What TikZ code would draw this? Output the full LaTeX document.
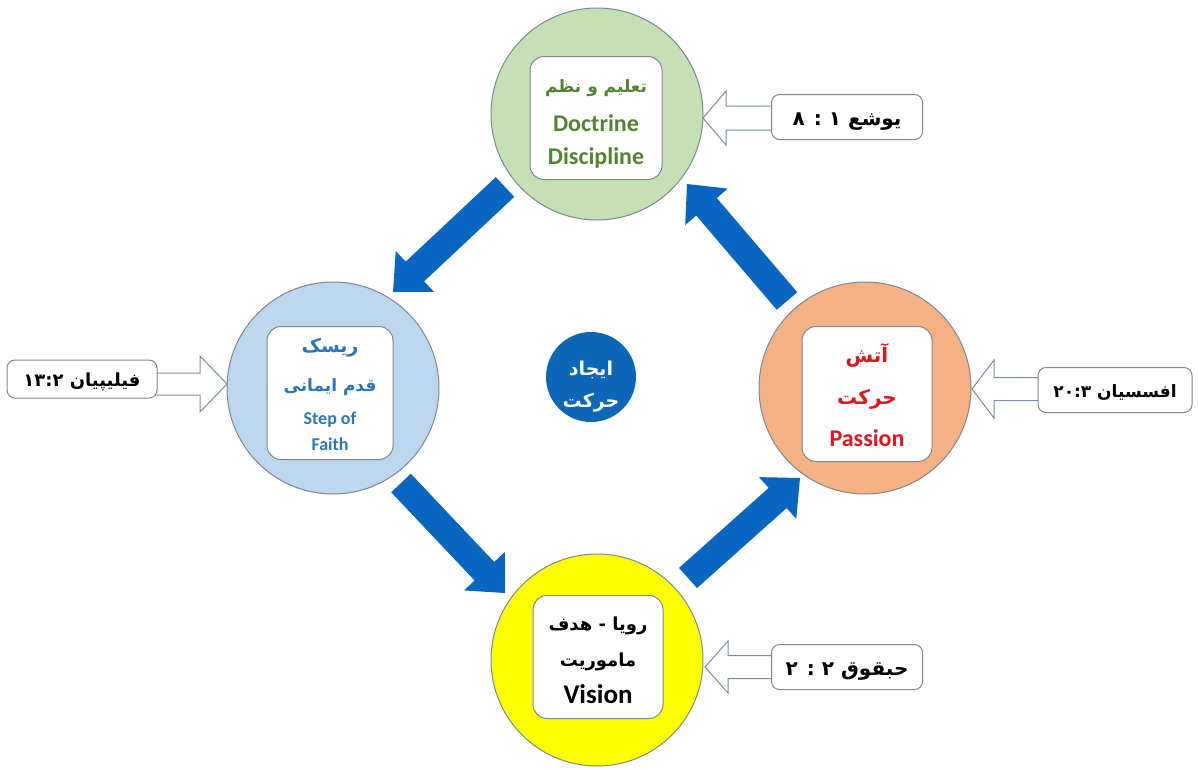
\documentclass[tikz,border=0pt]{standalone}
\usepackage{fontspec}
\setmainfont{Carlito}
\newfontfamily\fa[Script=Arabic]{DejaVu Sans}
\TeXXeTstate=1
\usetikzlibrary{calc}
\definecolor{gfill}{HTML}{C5E0B4}
\definecolor{gtext}{HTML}{548235}
\definecolor{bfill}{HTML}{BDD7EE}
\definecolor{btext}{HTML}{2E75B6}
\definecolor{ofill}{HTML}{F4B183}
\definecolor{otext}{HTML}{E0161E}
\definecolor{yfill}{HTML}{FFFF00}
\definecolor{darkb}{RGB}{14,102,184}
\definecolor{arrb}{RGB}{8,102,192}
\definecolor{edge}{RGB}{125,135,145}
\definecolor{hedge}{RGB}{120,140,165}
\newcommand\fatarr[6]{%
  \coordinate (fa-hb) at ($(#2)!#5!(#1)$);
  \path[#6] ($(#1)!#3!90:(#2)$) -- ($(fa-hb)!#3!90:(#2)$) -- ($(fa-hb)!#4!90:(#2)$) -- (#2)
     -- ($(fa-hb)!#4!-90:(#2)$) -- ($(fa-hb)!#3!-90:(#2)$) -- ($(#1)!#3!-90:(#2)$) -- cycle;
}
\begin{document}
\begin{tikzpicture}[x=1pt,y=-1pt,
  bigc/.style={circle,draw=edge,line width=1pt,minimum size=212pt,inner sep=0pt},
  inbox/.style={draw=edge,line width=1pt,fill=white,rounded corners=14pt,inner sep=0pt},
  refbox/.style={draw=edge,line width=1pt,fill=white,rounded corners=8pt,inner sep=0pt,minimum width=151pt,minimum height=45pt},
  en/.style={font=\fontsize{24}{28}\selectfont\bfseries},
  fat/.style={fill=arrb},
  hollow/.style={draw=hedge,line width=1pt,fill=white,line join=miter},
  txt/.style={inner sep=0pt,anchor=base}]
\useasboundingbox (0,0) rectangle (1198,769);
\fill[white] (0,0) rectangle (1198,769);

% circles
\node[bigc,fill=gfill] (green) at (597,114) {};
\node[bigc,fill=bfill] (blue) at (333,388) {};
\node[bigc,fill=ofill] (orange) at (865,388) {};
\node[bigc,fill=yfill] (yellow) at (597,660) {};
\node[circle,fill=darkb,minimum size=90pt,inner sep=0pt] (core) at (591,377) {};

% inner boxes
\node[inbox,minimum width=132pt,minimum height=123pt] (gbox) at (596,118) {};
\node[inbox,minimum width=126pt,minimum height=133pt] (bbox) at (330,393) {};
\node[inbox,minimum width=130pt,minimum height=135pt] (obox) at (867,394) {};
\node[inbox,minimum width=130pt,minimum height=123pt] (ybox) at (598,657) {};

% texts in green
\node[txt,text=gtext] (g1) at (596,92) {\fa\bfseries\fontsize{17}{22}\selectfont\beginR تعلیم و نظم\endR};
\node[txt,text=gtext,en] (g2) at (596,131) {Doctrine};
\node[txt,text=gtext,en] (g3) at (596,164) {Discipline};
% texts in blue
\node[txt,text=btext] (b1) at (330,352) {\fa\bfseries\fontsize{19}{24}\selectfont\beginR ریسک\endR};
\node[txt,text=btext] (b2) at (330,391) {\fa\bfseries\fontsize{17}{22}\selectfont\beginR قدم ایمانی\endR};
\node[txt,text=btext,font=\fontsize{18}{22}\selectfont\bfseries] (b3) at (330,424) {Step of};
\node[txt,text=btext,font=\fontsize{18}{22}\selectfont\bfseries] (b4) at (330,450) {Faith};
% texts in orange
\node[txt,text=otext] (o1) at (867,362) {\fa\bfseries\fontsize{20}{24}\selectfont\beginR آتش\endR};
\node[txt,text=otext] (o2) at (867,404) {\fa\bfseries\fontsize{20}{24}\selectfont\beginR حرکت\endR};
\node[txt,text=otext,en] (o3) at (867,446) {Passion};
% texts in yellow
\node[txt] (y1) at (598,630) {\fa\bfseries\fontsize{18}{22}\selectfont\beginR رویا - هدف\endR};
\node[txt] (y2) at (598,666) {\fa\bfseries\fontsize{18}{22}\selectfont\beginR ماموریت\endR};
\node[txt,font=\fontsize{27}{30}\selectfont\bfseries] (y3) at (598,703) {Vision};
% center
\node[txt,text=white] (c1) at (591,375) {\fa\bfseries\fontsize{19}{24}\selectfont\beginR ایجاد\endR};
\node[txt,text=white] (c2) at (591,407) {\fa\bfseries\fontsize{19}{24}\selectfont\beginR حرکت\endR};

% thick blue arrows
\coordinate (t1) at (505,187); \coordinate (h1) at (393,292);
\coordinate (t2) at (401,483); \coordinate (h2) at (505,593);
\coordinate (t3) at (688,578); \coordinate (h3) at (800,478);
\coordinate (t4) at (787,301); \coordinate (h4) at (687,184);
\fatarr{t1}{h1}{13.5pt}{28pt}{30pt}{fat}
\fatarr{t2}{h2}{13.5pt}{28pt}{30pt}{fat}
\fatarr{t3}{h3}{13.5pt}{28pt}{30pt}{fat}
\fatarr{t4}{h4}{13.5pt}{28pt}{30pt}{fat}

% hollow arrows
\coordinate (s1) at (775,118); \coordinate (e1) at (703,118);
\coordinate (s2) at (154,384); \coordinate (e2) at (227,384);
\coordinate (s3) at (1041,389); \coordinate (e3) at (972,389);
\coordinate (s4) at (775,667); \coordinate (e4) at (705,667);
\fatarr{s1}{e1}{12pt}{27pt}{23pt}{hollow}
\fatarr{s2}{e2}{11pt}{28pt}{27pt}{hollow}
\fatarr{s3}{e3}{11.5pt}{29pt}{22pt}{hollow}
\fatarr{s4}{e4}{11.5pt}{26pt}{23pt}{hollow}

% reference boxes
\node[refbox] (rtop) at (847,117) {};
\node[refbox,minimum width=150pt,minimum height=38pt] (rleft) at (82,379) {};
\node[refbox,minimum width=154pt] (rright) at (1115,390) {};
\node[refbox] (rbot) at (847,667) {};
\node[txt] at ($(rtop.center)+(0,8)$) {\fa\bfseries\fontsize{20}{24}\selectfont\beginR یوشع ۱ : ۸\endR};
\node[txt] at ($(rleft.center)+(0,7)$) {\fa\bfseries\fontsize{18}{22}\selectfont\beginR فیلیپیان ۱۳:۲\endR};
\node[txt] at ($(rright.center)+(0,7)$) {\fa\bfseries\fontsize{17}{22}\selectfont\beginR افسسیان ۲۰:۳\endR};
\node[txt] at ($(rbot.center)+(0,8)$) {\fa\bfseries\fontsize{20}{24}\selectfont\beginR حبقوق ۲ : ۲\endR};
\end{tikzpicture}
\end{document}
